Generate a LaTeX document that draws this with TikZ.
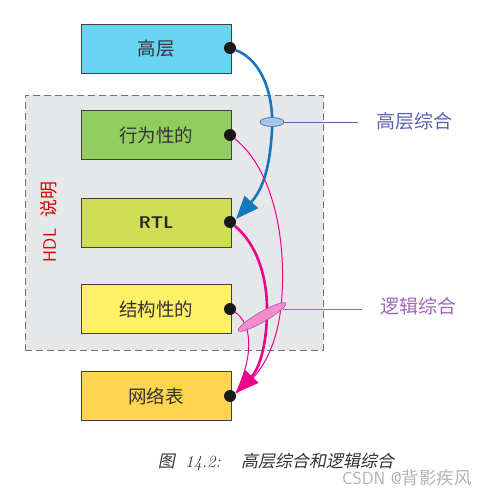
\documentclass[tikz,border=0pt]{standalone}
\usepackage{fontspec}
\newfontfamily\cjk{Noto Sans CJK SC}
\newfontfamily\cjkit[FakeSlant=0.2]{Noto Sans CJK SC}
\usetikzlibrary{arrows.meta,shapes.geometric}
\definecolor{cyanbox}{HTML}{66D4F2}
\definecolor{greenbox}{HTML}{92CD5F}
\definecolor{rtlbox}{HTML}{CEDD55}
\definecolor{yelbox}{HTML}{FFF068}
\definecolor{netbox}{HTML}{FFD54F}
\definecolor{hdlbg}{HTML}{E6E7E9}
\definecolor{blueline}{HTML}{1577BD}
\definecolor{pinkline}{HTML}{EC008C}
\definecolor{hlsblue}{HTML}{5B5FAE}
\definecolor{lspurple}{HTML}{A064B8}
\definecolor{txtgray}{HTML}{333333}
\tikzset{
  blockbox/.style={draw=black!75, line width=0.9pt, minimum width=150pt, minimum height=49pt,
    inner sep=0pt, font=\cjk\fontsize{18.5}{20}\selectfont, text=txtgray},
  portdot/.style={circle, fill=black!90, minimum size=12pt, inner sep=0pt},
  bigtip/.style={-{Triangle[length=23pt,width=18pt]}},
  thickcurve/.style={line width=2.6pt},
  thincurve/.style={line width=1pt},
  synlabel/.style={font=\cjk\fontsize{19}{21}\selectfont},
}
\begin{document}
\begin{tikzpicture}[x=1pt,y=-1pt]
\useasboundingbox (0,0) rectangle (491,495);
% HDL region
\node[draw=black!55, dashed, dash pattern=on 7pt off 4pt, line width=1pt, fill=hdlbg,
      minimum width=298pt, minimum height=255pt, inner sep=0pt] (hdl) at (174,222.5) {};
\node[rotate=90, text=red!85!black, font=\sffamily\fontsize{18}{20}\selectfont] (hdltxt) at (49,222)
   {HDL\hspace{0.6em}{\cjk 说明}};
% blocks
\node[blockbox, fill=cyanbox] (hl) at (156,48.5) {高层};
\node[blockbox, fill=greenbox] (beh) at (156,135) {行为性的};
\node[blockbox, fill=rtlbox, text=black!85, font=\sffamily\bfseries\fontsize{17}{19}\selectfont] (rtl) at (156,222.5) {RTL};
\node[blockbox, fill=yelbox] (str) at (156,309) {结构性的};
\node[blockbox, fill=netbox] (net) at (156,396) {网络表};
% dots
\node[portdot] (d1) at (230,48) {};
\node[portdot] (d2) at (230,135) {};
\node[portdot] (d3) at (230,222) {};
\node[portdot] (d4) at (230,309) {};
\node[portdot] (d5) at (230,396) {};
\coordinate (rtltip) at (236,219);
\coordinate (nettip) at (236,393);
% curves
\draw[blueline, thickcurve, bigtip] (d1) .. controls (262,60) and (274,95) .. (272,130)
   .. controls (270,165) and (264,188) .. (rtltip);
\draw[pinkline, thincurve] (d2) .. controls (268,165) and (286,225) .. (282,295)
   .. controls (279,345) and (262,375) .. (nettip);
\draw[pinkline, thincurve] (d4) .. controls (250,322) and (256,350) .. (nettip);
\draw[pinkline, thickcurve, bigtip] (d3) .. controls (258,245) and (268,280) .. (267,315)
   .. controls (266,350) and (258,370) .. (nettip);
% synthesis markers
\node[ellipse, draw=hlsblue, fill=blueline!40, line width=0.7pt, minimum width=24pt, minimum height=9pt, inner sep=0pt] (e1) at (272,122) {};
\node[synlabel, text=hlsblue] (hls) at (414,121) {高层综合};
\draw[hlsblue, line width=0.8pt] (e1.east) -- (358,122);
\node[ellipse, draw=lspurple, fill=magenta!45, line width=0.7pt, minimum width=55pt, minimum height=10pt, inner sep=0pt, rotate=30] (e2) at (262,317) {};
\node[synlabel, text=lspurple] (ls) at (418,306) {逻辑综合};
\draw[lspurple, line width=0.8pt] (283,309) -- (362,309);
% caption
\node[text=black!80, font=\fontsize{17}{19}\selectfont] (cap) at (276,462)
   {{\cjkit 图}\ \ \textit{14.2:}\hspace{1.2em}{\cjkit 高层综合和逻辑综合}};
\node[text=black!30, font=\sffamily\fontsize{17.5}{19}\selectfont] (wm) at (407,478) {CSDN @{\cjk 背影疾风}};
\end{tikzpicture}
\end{document}
